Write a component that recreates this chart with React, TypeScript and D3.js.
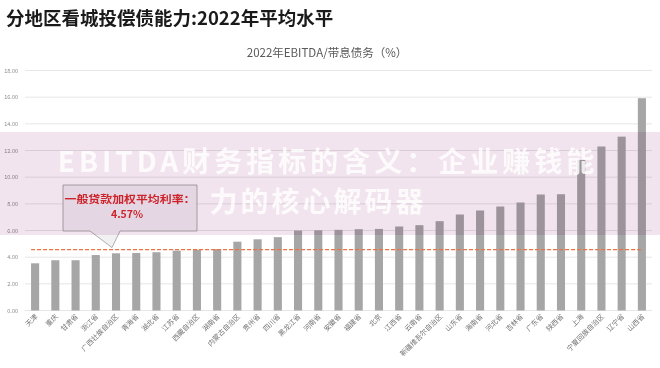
import React from "react";
import * as d3 from "d3";

const categories = ["天津","重庆","甘肃省","浙江省","广西壮族自治区","青海省","湖北省","江苏省","西藏自治区","湖南省","内蒙古自治区","贵州省","四川省","黑龙江省","河南省","安徽省","福建省","北京","江西省","云南省","新疆维吾尔自治区","山东省","海南省","河北省","吉林省","广东省","陕西省","上海","宁夏回族自治区","辽宁省","山西省"];
const values = [3.54,3.77,3.77,4.16,4.29,4.31,4.37,4.49,4.56,4.61,5.16,5.34,5.5,6.0,6.02,6.05,6.1,6.12,6.3,6.4,6.7,7.2,7.5,7.8,8.1,8.7,8.72,11.29,12.3,13.04,15.92];
const yTicks = [0,2,4,6,8,10,12,14,16,18];
const refRate = 4.57;
const title = "分地区看城投偿债能力:2022年平均水平";
const chartTitle = "2022年EBITDA/带息债务（%）";
const noteLine1 = "一般贷款加权平均利率：";
const noteLine2 = "4.57%";
const watermark1 = "EBITDA财务指标的含义：企业赚钱能";
const watermark2 = "力的核心解码器";

const W = 660, H = 368;
const FONT = "'Noto Sans CJK SC', 'Noto Sans', sans-serif";

export default function App() {
  const x = d3.scaleBand<string>().domain(categories).range([25, 652]).paddingInner(0.6).paddingOuter(0.3);
  const y = d3.scaleLinear().domain([0, 18]).range([310.5, 70.5]);
  const bw = x.bandwidth();
  const cx = (c: string) => (x(c) as number) + bw / 2;
  const refY = y(refRate);
  const tipX = 112;
  return (
    <svg width={W} height={H} style={{ position: "absolute", left: 0, top: 0, background: "#fff" }} fontFamily={FONT}>
      <rect x={0} y={0} width={W} height={H} fill="#fff" />
      <text x={6} y={25} fontSize={18.5} fontWeight={600} fill="#1a1a1a">{title}</text>
      <text x={327} y={57} fontSize={11.5} fill="#595959" textAnchor="middle">{chartTitle}</text>
      {yTicks.map((t) => (
        <g key={t}>
          <line x1={25} x2={652} y1={y(t)} y2={y(t)} stroke="#e6e6e6" strokeWidth={1} />
          <text x={18} y={y(t) + 2} fontSize={5.5} fill="#8c8c8c" textAnchor="end">{t.toFixed(2)}</text>
        </g>
      ))}
      {categories.map((c, i) => (
        <rect key={c} x={x(c)} y={y(values[i])} width={bw} height={y(0) - y(values[i])} fill="#a6a6a6" />
      ))}
      {categories.map((c) => (
        <text key={c} transform={`translate(${cx(c) + 3},${317}) rotate(-45)`} fontSize={7} fill="#737373" textAnchor="end">{c}</text>
      ))}
      <line x1={x(categories[0])} x2={cx(categories[categories.length - 1])} y1={refY} y2={refY} stroke="#ea7440" strokeWidth={1.2} strokeDasharray="4 2" />
      <path d={`M63,185 H197 V231 H120 L${tipX},${refY - 2} L90,231 H63 Z`} fill="#f1f1f4" stroke="#9a9a9a" strokeWidth={0.8} />
      <text x={130} y={202.5} fontSize={10.5} fontWeight="bold" fill="#d8282e" textAnchor="middle" textLength={131} lengthAdjust="spacingAndGlyphs">{noteLine1}</text>
      <text x={127} y={218} fontSize={10.5} fontWeight="bold" fill="#d8282e" textAnchor="middle">{noteLine2}</text>
      <rect x={0} y={132} width={W} height={103} fill="#f2e4ee" style={{ mixBlendMode: "multiply" }} />
      <g fill="#ffffff" opacity={0.82} fontWeight="bold" fontSize={28} textAnchor="middle">
        <text x={328} y={172} letterSpacing={4}>{watermark1}</text>
        <text x={318} y={212} letterSpacing={3}>{watermark2}</text>
      </g>
    </svg>
  );
}
